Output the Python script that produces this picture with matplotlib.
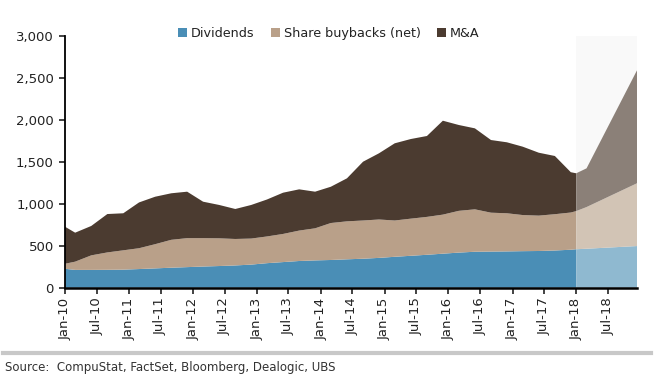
import matplotlib
matplotlib.use("Agg")
import matplotlib.pyplot as plt
import matplotlib.dates as mdates
from matplotlib.ticker import FuncFormatter, MultipleLocator
import pandas as pd

# quarterly readings, last point is the 2018 estimate
dates = ["2010-01-01", "2010-02-28", "2010-05-31", "2010-08-31", "2010-11-30",
         "2011-02-28", "2011-05-31", "2011-08-31", "2011-11-30",
         "2012-02-29", "2012-05-31", "2012-08-31", "2012-11-30",
         "2013-02-28", "2013-05-31", "2013-08-31", "2013-11-30",
         "2014-02-28", "2014-05-31", "2014-08-31", "2014-11-30",
         "2015-02-28", "2015-05-31", "2015-08-31", "2015-11-30",
         "2016-02-29", "2016-05-31", "2016-08-31", "2016-11-30",
         "2017-02-28", "2017-05-31", "2017-08-31", "2017-11-30",
         "2017-12-31", "2018-02-28", "2018-12-15"]

dividends = [225, 212, 212, 213, 215,
             222, 230, 238, 245,
             252, 258, 265, 275,
             292, 305, 318, 325,
             330, 338, 345, 355,
             368, 380, 392, 405,
             418, 428, 430, 432,
             435, 437, 443, 452,
             458, 464, 496]

buybacks = [60, 98, 173, 207, 230,
            248, 288, 332, 345,
            338, 330, 315, 310,
            318, 335, 362, 382,
            440, 452, 455, 457,
            432, 442, 451, 465,
            497, 505, 463, 454,
            430, 421, 432, 443,
            454, 496, 749]

m_and_a = [441, 345, 350, 457, 441,
           545, 565, 554, 553,
           434, 397, 357, 400,
           440, 491, 491, 436,
           432, 512, 700, 788,
           919, 948, 963, 1118,
           1022, 964, 865, 845,
           814, 749, 693, 480,
           450, 461, 1350]

labels = ["Dividends", "Share buybacks (net)", "M&A"]
forecast_start = "2017-12-31"

colors = ["#4a8eb6", "#b9a089", "#4b3b30"]
colors_fc = ["#8fb9d0", "#d2c4b5", "#8b8078"]

x = pd.to_datetime(dates)
split = dates.index(forecast_start)

fig = plt.figure(figsize=(6.54, 3.81), dpi=100)
ax = fig.add_axes([65 / 654, 1 - 287.7 / 381, (637.3 - 65) / 654, 252 / 381])

# shaded forecast period
ax.axvspan(x[split], x[-1], color="#f9f9f9", lw=0, zorder=0)

hist = ax.stackplot(x[:split + 1], dividends[:split + 1], buybacks[:split + 1],
                    m_and_a[:split + 1], colors=colors, labels=labels, lw=0, zorder=2)
ax.stackplot(x[split:], dividends[split:], buybacks[split:], m_and_a[split:],
             colors=colors_fc, lw=0, zorder=2)

ax.set_xlim(x[0], x[-1])
ax.set_ylim(0, 3000)
ax.yaxis.set_major_locator(MultipleLocator(500))
ax.yaxis.set_major_formatter(FuncFormatter(lambda v, p: f"{v:,.0f}"))
ax.xaxis.set_major_locator(mdates.MonthLocator(bymonth=[1, 7]))
ax.xaxis.set_major_formatter(mdates.DateFormatter("%b-%y"))

for s in ["top", "right"]:
    ax.spines[s].set_visible(False)
ax.spines["left"].set_linewidth(1.3)
ax.spines["bottom"].set_linewidth(1.8)
ax.tick_params(axis="y", length=4, width=1.2, labelsize=9.5, colors="#222222", pad=4)
ax.tick_params(axis="x", length=4, width=1.2, labelsize=9.5, colors="#222222",
               labelrotation=90, pad=3)

fig.legend(hist, labels, loc="center", bbox_to_anchor=(0.503, 1 - 33.3 / 381),
           ncol=3, frameon=False, fontsize=9.2, handlelength=0.7, handleheight=0.7,
           handletextpad=0.3, columnspacing=1.3, labelcolor="#222222")

fig.add_artist(plt.Line2D([0.005, 0.995], [1 - 353 / 381, 1 - 353 / 381],
                          color="#c8c8c8", lw=3, transform=fig.transFigure))
fig.text(5 / 654, 1 - 367 / 381, "Source:  CompuStat, FactSet, Bloomberg, Dealogic, UBS",
         fontsize=8.5, color="#333333", va="center", ha="left")

fig.savefig("out.png", dpi=100)
